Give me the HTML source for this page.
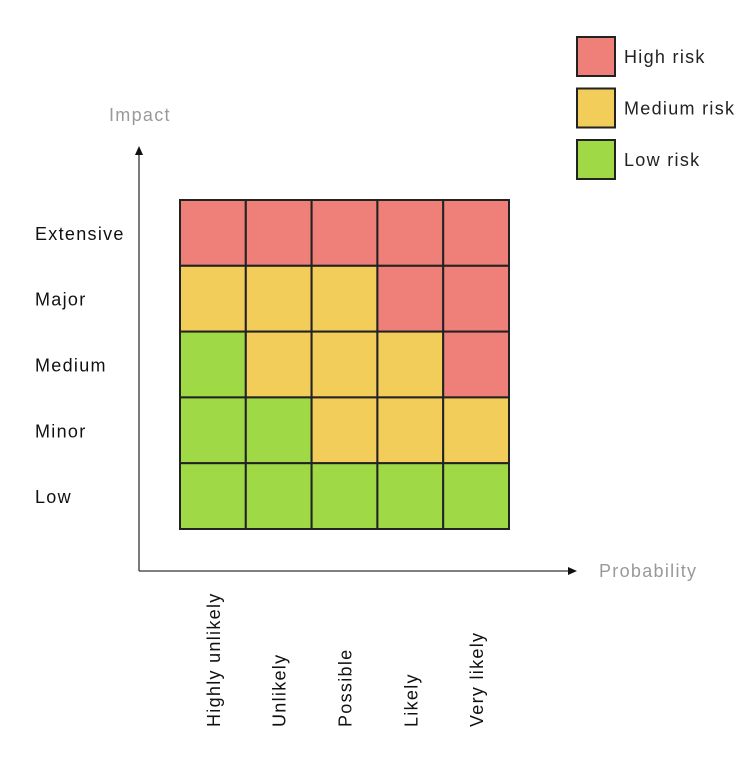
<!DOCTYPE html>
<html><head><meta charset="utf-8"><style>
body{margin:0;background:#fff;font-family:"Liberation Sans",sans-serif}
text{letter-spacing:1.3px}
</style></head><body>
<svg width="747" height="760" xmlns="http://www.w3.org/2000/svg">
<g id="grid"></g>
<g id="axes">
<line x1="139" y1="571" x2="139" y2="152" stroke="#333" stroke-width="1.3"/>
<polygon points="139,146 135,155 143,155" fill="#111"/>
<line x1="139" y1="571" x2="570" y2="571" stroke="#333" stroke-width="1.3"/>
<polygon points="577,571 568,567 568,575" fill="#111"/>
<text x="109" y="121" font-size="18" fill="#999">Impact</text>
<text x="599" y="577" font-size="18" fill="#999">Probability</text>
</g>
<g id="labels"></g>
<g id="legend"></g>
</svg>
<script>
const probabilities=["Highly unlikely","Unlikely","Possible","Likely","Very likely"];
const impacts=["Extensive","Major","Medium","Minor","Low"];
const riskLevels=[
["H","H","H","H","H"],
["M","M","M","H","H"],
["L","M","M","M","H"],
["L","L","M","M","M"],
["L","L","L","L","L"]];
const legendKeys=["H","M","L"];
const legendLabels=["High risk","Medium risk","Low risk"];
const colors={H:"#EE7F79",M:"#F3CD5A",L:"#9FD946"};
const NS="http://www.w3.org/2000/svg";
const x0=180,y0=200,cw=65.8,ch=65.8;
const xPos=i=>x0+i*cw, yPos=j=>y0+j*ch;
const grid=document.getElementById('grid');
riskLevels.forEach((row,j)=>row.forEach((v,i)=>{
 const r=document.createElementNS(NS,'rect');
 r.setAttribute('x',xPos(i));r.setAttribute('y',yPos(j));
 r.setAttribute('width',cw);r.setAttribute('height',ch);
 r.setAttribute('fill',colors[v]);r.setAttribute('stroke','#222');r.setAttribute('stroke-width','2');
 
 
 grid.appendChild(r);
}));
const labels=document.getElementById('labels');
impacts.forEach((t,j)=>{
 const e=document.createElementNS(NS,'text');
 e.setAttribute('x',35);e.setAttribute('y',yPos(j)+ch/2+7);
 e.setAttribute('font-size','18');e.setAttribute('fill','#111');e.textContent=t;
 
 
 labels.appendChild(e);
});
probabilities.forEach((t,i)=>{
 const e=document.createElementNS(NS,'text');
 const cx=xPos(i)+cw/2+7,cy=727;
 e.setAttribute('x',cx);e.setAttribute('y',cy);
 e.setAttribute('transform',`rotate(-90 ${cx} ${cy})`);
 e.setAttribute('font-size','18');e.setAttribute('fill','#111');e.textContent=t;
 
 
 labels.appendChild(e);
});
const legend=document.getElementById('legend');
legendKeys.forEach((k,i)=>{
 const y=37+i*51.5;
 const r=document.createElementNS(NS,'rect');
 r.setAttribute('x',577);r.setAttribute('y',y);r.setAttribute('width',38);r.setAttribute('height',39);
 r.setAttribute('fill',colors[k]);r.setAttribute('stroke','#222');r.setAttribute('stroke-width','2');
 
 
 legend.appendChild(r);
 const e=document.createElementNS(NS,'text');
 e.setAttribute('x',624);e.setAttribute('y',y+26);e.setAttribute('font-size','18');e.setAttribute('fill','#222');
 e.textContent=legendLabels[i];
 
 
 legend.appendChild(e);
});
</script>
</body></html>
